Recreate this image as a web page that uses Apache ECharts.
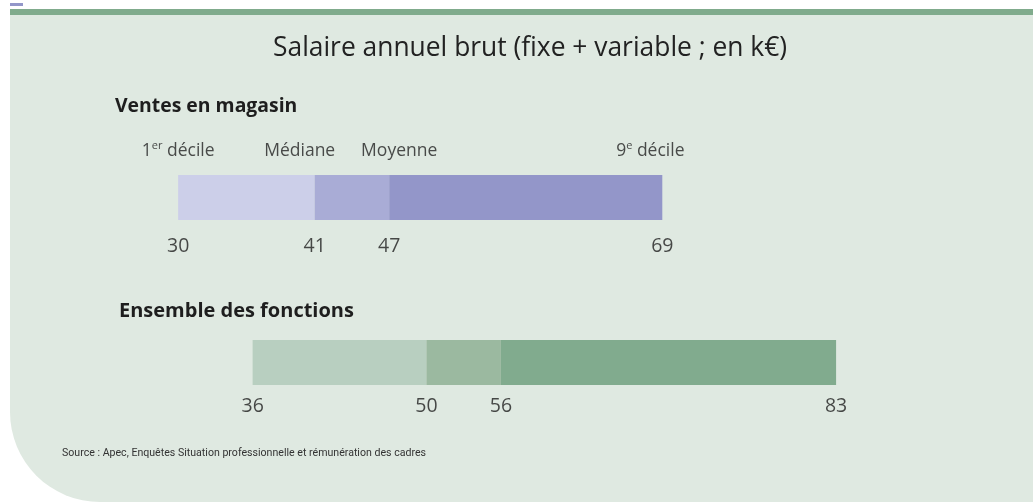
<!DOCTYPE html>
<html>
<head>
<meta charset="utf-8">
<script src="https://cdn.jsdelivr.net/npm/echarts@6/dist/echarts.min.js"></script>
<style>
    html, body { margin: 0; padding: 0; background: #ffffff; }
    #chart { width: 1033px; height: 502px; }
</style>
</head>
<body>
<div id="chart"></div>
<script>
// données (en k€)
const categories = ['Ventes en magasin', 'Ensemble des fonctions'];
const decile1 = [30, 36];
const mediane = [41, 50];
const moyenne = [47, 56];
const decile9 = [69, 83];
const headerLabels = ['1{sup|er} décile', 'Médiane', 'Moyenne', '9{sup|e} décile'];
const titleText = 'Salaire annuel brut (fixe + variable ; en k€)';
const sourceText = 'Source : Apec, Enquêtes Situation professionnelle et rémunération des cadres';

const lightColors = ['#cccfe9', '#b8cfc0'];
const midColors = ['#a9acd6', '#9bb9a0'];
const darkColors = ['#9396c9', '#81ab8e'];
const labelOffsets = [49, 44];
// décalage horizontal des en-têtes (placés à la main dans l'original)
const headerShift = [0, -15, 10, -12];

const fontMain = '"Open Sans", "Noto Sans", sans-serif';

function segment(values, colors) {
    return values.map((v, i) => ({ value: v, itemStyle: { color: colors[i] } }));
}

let bornes = [];
categories.forEach((c, i) => {
    [decile1[i], mediane[i], moyenne[i], decile9[i]].forEach((v) => {
        bornes.push({
            value: [v, i],
            label: { offset: [0, labelOffsets[i]] }
        });
    });
});

let entetes = [decile1[0], mediane[0], moyenne[0], decile9[0]].map((v, k) => ({
    value: [v, 0],
    label: { formatter: headerLabels[k], offset: [headerShift[k], -46] }
}));

const chart = echarts.init(document.getElementById('chart'));

const option = {
    animation: false,
    grid: { left: 54, right: 110, top: 115, height: 330 },
    xAxis: { type: 'value', min: 20, max: 90, interval: 10, show: false },
    yAxis: { type: 'category', data: categories, inverse: true, show: false },
    graphic: [
        { type: 'rect', z: -10, shape: { x: 10, y: 3, width: 13, height: 3 }, style: { fill: '#9396c9' } },
        { type: 'rect', z: -10, shape: { x: 10, y: 9, width: 1023, height: 6 }, style: { fill: '#80ab8c' } },
        { type: 'rect', z: -20, shape: { x: 10, y: 15, width: 1023, height: 487, r: [0, 0, 0, 90] }, style: { fill: '#dfe9e1' } },
        { type: 'text', left: 273, top: 35, style: { text: titleText, font: '26.4px ' + fontMain, fill: '#222' } },
        { type: 'text', left: 115, top: 97, style: { text: categories[0], font: 'bold 19.4px ' + fontMain, fill: '#1e1e1e' } },
        { type: 'text', left: 119, top: 301, style: { text: categories[1], font: 'bold 20px ' + fontMain, fill: '#1e1e1e' } },
        { type: 'text', left: 62, top: 448, style: { text: sourceText, font: '10.6px Roboto, ' + fontMain, fill: '#333' } }
    ],
    series: [
        { type: 'bar', stack: 'a', barWidth: 45, silent: true, itemStyle: { color: 'transparent' }, data: decile1 },
        { type: 'bar', stack: 'a', barWidth: 45, data: segment(mediane.map((v, i) => v - decile1[i]), lightColors) },
        { type: 'bar', stack: 'a', barWidth: 45, data: segment(moyenne.map((v, i) => v - mediane[i]), midColors) },
        { type: 'bar', stack: 'a', barWidth: 45, data: segment(decile9.map((v, i) => v - moyenne[i]), darkColors) },
        {
            type: 'scatter', symbolSize: 1, itemStyle: { color: 'transparent' },
            label: {
                show: true, position: 'inside',
                formatter: (p) => p.value[0],
                fontFamily: fontMain, fontSize: 19.5, color: '#1e1e1e'
            },
            data: bornes
        },
        {
            type: 'scatter', symbolSize: 1, itemStyle: { color: 'transparent' },
            label: {
                show: true, position: 'inside',
                fontFamily: fontMain, fontSize: 17.5, color: '#222', lineHeight: 22,
                rich: { sup: { fontFamily: fontMain, fontSize: 11, verticalAlign: 'top', lineHeight: 22, padding: [0, 0, 9, 0] } }
            },
            data: entetes
        }
    ]
};

chart.setOption(option);
</script>
</body>
</html>
